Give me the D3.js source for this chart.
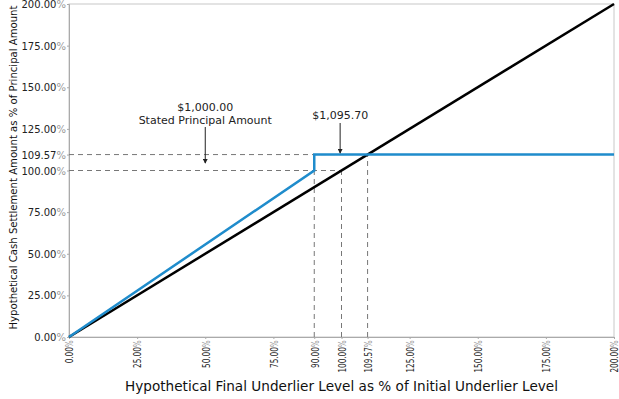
<!DOCTYPE html>
<html>
<head>
<meta charset="utf-8">
<script src="https://cdn.jsdelivr.net/npm/d3@7"></script>
<style>
  body { margin: 0; background: #fff; }
  text { font-family: "DejaVu Sans", sans-serif; }
</style>
</head>
<body>
<svg width="619" height="399"></svg>
<script>
// tick values, in percent
const xTicks = [0, 25, 50, 75, 90, 100, 109.57, 125, 150, 175, 200];
const yTicks = [0, 25, 50, 75, 100, 109.57, 125, 150, 175, 200];

// underlier level vs cash settlement, both in percent
const noteX = [0, 90, 90, 200];
const noteY = [0, 100, 109.57, 109.57];
const underX = [0, 200];
const underY = [0, 200];

// dashed guide lines: [x0, y0, x1, y1]
const guides = [
  [0, 109.57, 109.57, 109.57],
  [0, 100, 100, 100],
  [90, 0, 90, 109.57],
  [100, 0, 100, 100],
  [109.57, 0, 109.57, 109.57]
];

const svg = d3.select('svg');
const margin = { top: 4, right: 5, bottom: 62, left: 69 };
const width = 619 - margin.left - margin.right;
const height = 399 - margin.top - margin.bottom;

const x = d3.scaleLinear().domain([0, 200]).range([0, width]);
const y = d3.scaleLinear().domain([0, 200]).range([height, 0]);

const g = svg.append('g').attr('transform', `translate(${margin.left},${margin.top})`);

// frame
g.append('rect')
  .attr('width', width).attr('height', height)
  .attr('fill', 'none').attr('stroke', '#c8c8c8');

function pctLabel(sel, d) {
  sel.text(null);
  sel.append('tspan').attr('fill', '#222').text(d.toFixed(2));
  sel.append('tspan').attr('fill', '#999').text('%');
}

// y axis
const yAxis = g.append('g')
  .call(d3.axisLeft(y).tickValues(yTicks).tickSize(2).tickFormat(''));
yAxis.select('.domain').attr('stroke', '#aaa');
yAxis.selectAll('.tick line').attr('stroke', '#aaa');
yAxis.selectAll('.tick').append('text')
  .attr('x', -3).attr('dy', '0.35em')
  .attr('text-anchor', 'end')
  .attr('font-size', 10)
  .each(function (d) { pctLabel(d3.select(this), d); });

// x axis, labels are narrower than the y ones
const xAxis = g.append('g')
  .attr('transform', `translate(0,${height})`)
  .call(d3.axisBottom(x).tickValues(xTicks).tickSize(2).tickFormat(''));
xAxis.select('.domain').attr('stroke', '#aaa');
xAxis.selectAll('.tick line').attr('stroke', '#aaa');
xAxis.selectAll('.tick').append('text')
  .attr('transform', 'rotate(-90) scale(0.66,1)')
  .attr('x', -5).attr('dy', '0.35em')
  .attr('text-anchor', 'end')
  .attr('font-size', 11)
  .each(function (d) { pctLabel(d3.select(this), d); });

// guides
g.selectAll('.guide')
  .data(guides)
  .join('line')
  .attr('class', 'guide')
  .attr('x1', d => x(d[0])).attr('y1', d => y(d[1]))
  .attr('x2', d => x(d[2])).attr('y2', d => y(d[3]))
  .attr('stroke', '#777')
  .attr('stroke-width', 1)
  .attr('stroke-dasharray', '5,4');

const line = d3.line().x(d => x(d[0])).y(d => y(d[1]));

g.append('path')
  .datum(d3.zip(underX, underY))
  .attr('d', line)
  .attr('fill', 'none')
  .attr('stroke', '#000')
  .attr('stroke-width', 2.5);

g.append('path')
  .datum(d3.zip(noteX, noteY))
  .attr('d', line)
  .attr('fill', 'none')
  .attr('stroke', '#1f8ccc')
  .attr('stroke-width', 2.5);

// annotations
svg.append('defs').append('marker')
  .attr('id', 'arrow')
  .attr('viewBox', '0 0 6 6')
  .attr('refX', 5).attr('refY', 3)
  .attr('markerWidth', 5).attr('markerHeight', 5)
  .attr('orient', 'auto')
  .append('path').attr('d', 'M0,0L6,3L0,6Z').attr('fill', '#222');

function annotate(px, lines, yText, yFrom, yTo) {
  const t = g.append('text')
    .attr('x', x(px)).attr('y', yText)
    .attr('text-anchor', 'middle')
    .attr('font-size', 11)
    .attr('fill', '#222');
  lines.forEach((s, i) => {
    t.append('tspan').attr('x', x(px)).attr('dy', i ? 13 : 0).text(s);
  });
  g.append('line')
    .attr('x1', x(px)).attr('x2', x(px))
    .attr('y1', yFrom).attr('y2', y(yTo))
    .attr('stroke', '#222')
    .attr('stroke-width', 1)
    .attr('marker-end', 'url(#arrow)');
}

annotate(50, ['$1,000.00', 'Stated Principal Amount'], 107, 123, 104.5);
annotate(99.5, ['$1,095.70'], 115, 119, 110.5);

// axis titles
svg.append('text')
  .attr('transform', `translate(17,${(5 + 330) / 2}) rotate(-90)`)
  .attr('text-anchor', 'middle')
  .attr('font-size', 11)
  .attr('textLength', 324)
  .attr('lengthAdjust', 'spacingAndGlyphs')
  .attr('fill', '#111')
  .text('Hypothetical Cash Settlement Amount as % of Principal Amount');

svg.append('text')
  .attr('x', 341.5).attr('y', 391)
  .attr('text-anchor', 'middle')
  .attr('font-size', 14)
  .attr('textLength', 433)
  .attr('lengthAdjust', 'spacingAndGlyphs')
  .attr('fill', '#111')
  .text('Hypothetical Final Underlier Level as % of Initial Underlier Level');
</script>
</body>
</html>
